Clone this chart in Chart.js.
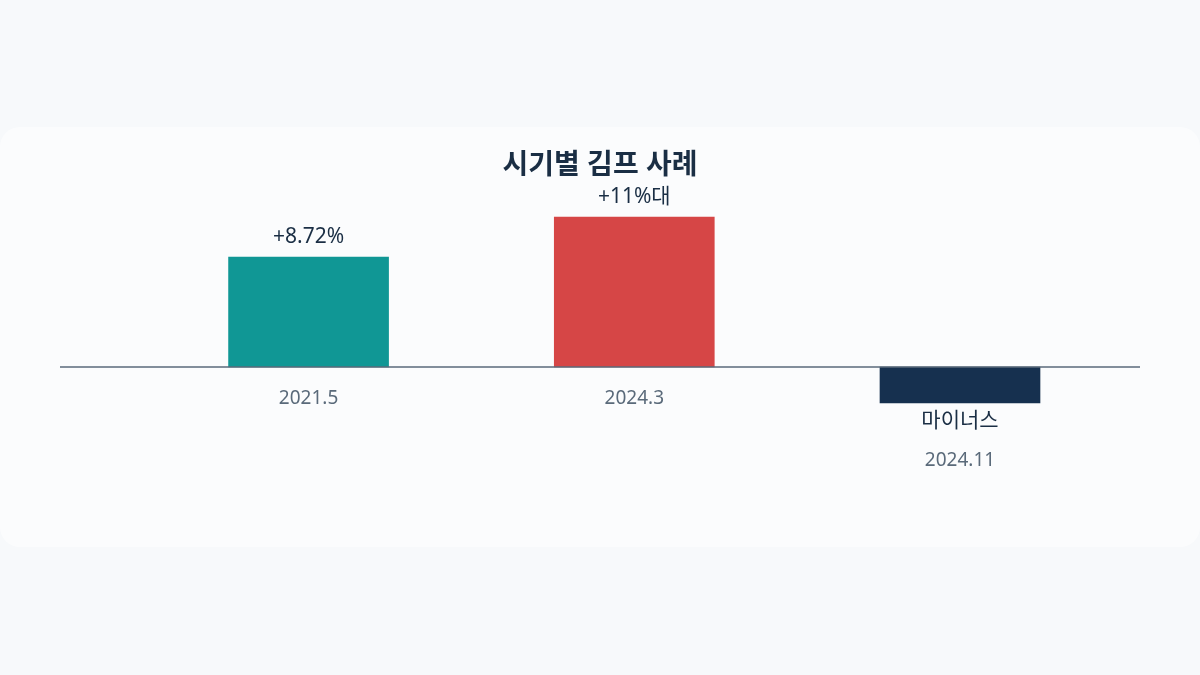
<!DOCTYPE html>
<html>
<head>
<meta charset="utf-8">
<script src="https://cdn.jsdelivr.net/npm/chart.js@4"></script>
<style>
  body { margin: 0; background: #f7f9fb; width: 1200px; height: 675px; overflow: hidden; }
  #card { position: absolute; left: 0; top: 127px; width: 1200px; height: 420px; background: #ffffff; border-radius: 20px; opacity: 0.55; }
  #wrap { position: absolute; left: 0; top: 0; width: 1200px; height: 675px; }
</style>
</head>
<body>
<div id="card"></div>
<div id="wrap"><canvas id="barChart"></canvas></div>
<script>
// data
const periods = ['2021.5', '2024.3', '2024.11'];
const premium = [8.72, 11.9, -2.85];
const valueLabels = ['+8.72%', '+11%대', '마이너스'];
const barColors = ['#109795', '#d64646', '#16304f'];

const FONT = '"Noto Sans", "Noto Sans CJK KR", sans-serif';

// title, zero line and labels
const labelPlugin = {
  id: 'labelPlugin',
  afterDatasetsDraw(chart) {
    const ctx = chart.ctx;
    const y = chart.scales.y;
    const zero = y.getPixelForValue(0);
    ctx.save();
    ctx.strokeStyle = '#5a6a7a';
    ctx.lineWidth = 1.5;
    ctx.beginPath();
    ctx.moveTo(60, zero);
    ctx.lineTo(1140, zero);
    ctx.stroke();

    ctx.textAlign = 'center';
    ctx.textBaseline = 'middle';
    ctx.fillStyle = '#1a2e44';
    ctx.font = 'bold 28px ' + FONT;
    ctx.fillText('시기별 김프 사례', 600, 166);

    chart.getDatasetMeta(0).data.forEach((bar, i) => {
      const v = premium[i];
      ctx.font = '21px ' + FONT;
      ctx.fillStyle = '#1a2e44';
      if (v >= 0) {
        ctx.fillText(valueLabels[i], bar.x, bar.y - 20);
        ctx.font = '19px ' + FONT;
        ctx.fillStyle = '#5a6a7a';
        ctx.fillText(periods[i], bar.x, zero + 32);
      } else {
        ctx.fillText(valueLabels[i], bar.x, bar.y + 18);
        ctx.font = '19px ' + FONT;
        ctx.fillStyle = '#5a6a7a';
        ctx.fillText(periods[i], bar.x, bar.y + 58);
      }
    });
    ctx.restore();
  }
};

new Chart(document.getElementById('barChart'), {
  type: 'bar',
  data: {
    datasets: [{
      data: premium.map((v, i) => ({ x: i, y: v })),
      backgroundColor: barColors,
      borderWidth: 0,
      barThickness: 160
    }]
  },
  options: {
    responsive: true,
    maintainAspectRatio: false,
    animation: false,
    layout: { padding: { left: 60, right: 60, top: 190.6, bottom: 182 } },
    plugins: { legend: { display: false }, tooltip: { enabled: false } },
    scales: {
      x: { type: 'linear', display: false, min: -0.5263, max: 2.3158 },
      y: { display: false, min: -10, max: 14 }
    }
  },
  plugins: [labelPlugin]
});
</script>
</body>
</html>
